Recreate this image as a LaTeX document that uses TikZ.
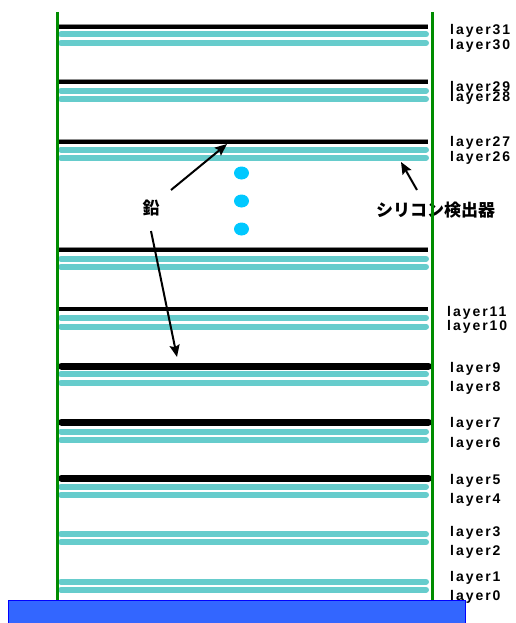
\documentclass[tikz,border=0pt]{standalone}
\usepackage{fontspec}
\setmainfont{Liberation Sans}
\newfontfamily\labelfont[LetterSpace=14, UprightFont={Liberation Sans Bold}]{Liberation Sans}
\newfontfamily\cjk{Noto Sans CJK JP}
\usetikzlibrary{arrows.meta}

\definecolor{sicolor}{RGB}{102,204,204}
\definecolor{framegreen}{RGB}{0,140,0}
\definecolor{dotblue}{RGB}{0,200,255}
\definecolor{basefill}{RGB}{51,102,255}
\definecolor{baseedge}{RGB}{0,0,255}

\tikzset{
  silayer/.style={line width=6pt, draw=sicolor, line cap=round},
  leadthin/.style={line width=4pt, draw=black},
  leadedge/.style={line width=0.9pt, draw=black!45},
  leadthick/.style={line width=7pt, draw=black, line cap=round},
  frameline/.style={line width=3pt, draw=framegreen},
  layerlabel/.style={anchor=base west, inner sep=0pt, font=\labelfont\fontsize{14}{14}\selectfont},
  jplabel/.style={inner sep=0pt, font=\cjk\bfseries\fontsize{17}{17}\selectfont},
  pointer/.style={line width=2pt, -{Stealth[length=12pt, width=10pt, inset=2pt]}},
  dot/.style={fill=dotblue, draw=none},
}

\begin{document}
\begin{tikzpicture}[x=1pt, y=-1pt]
\useasboundingbox (0,0) rectangle (515,623);

% silicon detector planes (pairs)
\foreach \ya/\yb in {34.5/43, 90.7/99, 149.5/157.7, 258.7/266.7, 317.7/326.5,
                     374.3/382.7, 431.5/440, 486.7/494.7, 534.3/542.3, 581.7/589.7}{
  \draw[silayer] (61,\ya) -- (426,\ya);
  \draw[silayer] (61,\yb) -- (426,\yb);
}

% thin lead absorbers
\foreach \y in {26.7, 82, 141.7, 250, 309.3}{
  \draw[leadedge] (58,\y-2.2) -- (428,\y-2.2);
  \draw[leadthin] (58,\y) -- (428,\y);
}

% thick lead absorbers
\foreach \y in {366, 422, 478.3}{
  \draw[leadthick] (61.5,\y) -- (428.5,\y);
}

% layer labels
\node[layerlabel] (l31) at (450,35)    {layer31};
\node[layerlabel] (l30) at (450,50)    {layer30};
\node[layerlabel] (l29) at (450,91.5)  {layer29};
\node[layerlabel] (l28) at (450,101.5) {layer28};
\node[layerlabel] (l27) at (450,146.5) {layer27};
\node[layerlabel] (l26) at (450,161.5) {layer26};
\node[layerlabel] (l11) at (447,316)   {layer11};
\node[layerlabel] (l10) at (447,330.5) {layer10};
\node[layerlabel] (l9)  at (450,372)   {layer9};
\node[layerlabel] (l8)  at (450,391)   {layer8};
\node[layerlabel] (l7)  at (450,427.5) {layer7};
\node[layerlabel] (l6)  at (450,447)   {layer6};
\node[layerlabel] (l5)  at (450,484)   {layer5};
\node[layerlabel] (l4)  at (450,503)   {layer4};
\node[layerlabel] (l3)  at (450,536.5) {layer3};
\node[layerlabel] (l2)  at (450,555)   {layer2};
\node[layerlabel] (l1)  at (450,581)   {layer1};
\node[layerlabel] (l0)  at (450,600)   {layer0};

% ellipsis between layer groups
\fill[dot] (241.5,173) ellipse [x radius=7.5pt, y radius=6.5pt];
\fill[dot] (241.5,201) ellipse [x radius=7.5pt, y radius=6.5pt];
\fill[dot] (241.5,229) ellipse [x radius=7.5pt, y radius=6.5pt];

% annotations
\node[jplabel] (lead) at (151,208) {鉛};
\node[jplabel] (sidet) at (435.5,210.5) {シリコン検出器};

\coordinate (leadA) at (171,190);
\coordinate (leadAtip) at (227,144);
\coordinate (leadB) at (151,231);
\coordinate (leadBtip) at (177,357);
\coordinate (siA) at (417,190);
\coordinate (siAtip) at (401,162);

\draw[pointer] (leadA) -- (leadAtip);
\draw[pointer] (leadB) -- (leadBtip);
\draw[pointer] (siA) -- (siAtip);

% frame
\draw[frameline] (57,12) -- (57,600);
\draw[frameline] (432,12) -- (432,600);

% base plate
\draw[fill=basefill, draw=baseedge, line width=1.5pt] (8.5,600.5) rectangle (465.5,630);
\end{tikzpicture}
\end{document}
